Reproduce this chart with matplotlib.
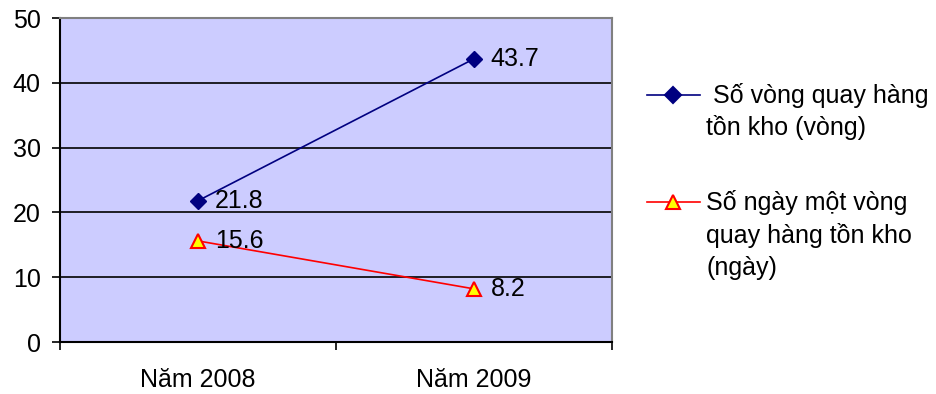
import matplotlib.pyplot as plt
from matplotlib.lines import Line2D

plt.rcParams['font.family'] = ['Liberation Sans', 'DejaVu Sans']

years = ['Năm 2008', 'Năm 2009']
vong_quay = [21.8, 43.7]
so_ngay = [15.6, 8.2]
label_vong = [' Số vòng quay hàng', 'tồn kho (vòng)']
label_ngay = ['Số ngày một vòng', 'quay hàng tồn kho', '(ngày)']

fs = 18

fig = plt.figure(figsize=(9.37, 3.94), dpi=100)
ax = fig.add_axes([60 / 937, 1 - 342 / 394, 552 / 937, 324 / 394])
ax.set_facecolor('#ccccff')

x = list(range(len(years)))
ax.plot(x, vong_quay, color='#000080', lw=1.2, marker='D', ms=8,
        mfc='#000080', mec='#000080')
ax.plot(x, so_ngay, color='red', lw=1.2, marker='^', ms=9.5,
        mfc='yellow', mec='red', mew=1.5)

for xi, v in zip(x, vong_quay):
    ax.annotate(f'{v}', (xi, v), xytext=(12, 0), textcoords='offset points',
                va='center', ha='left', fontsize=fs)
for xi, v in zip(x, so_ngay):
    ax.annotate(f'{v}', (xi, v), xytext=(12, 0), textcoords='offset points',
                va='center', ha='left', fontsize=fs)

ax.set_xlim(-0.5, 1.5)
ax.set_ylim(0, 50)
ax.set_yticks(range(0, 51, 10))
ax.yaxis.grid(True, color='black', lw=1.2)
ax.set_axisbelow(True)
ax.set_xticks([-0.5, 0.5, 1.5])
ax.set_xticklabels([])
ax.set_xticks(x, minor=True)
ax.set_xticklabels(years, minor=True, fontsize=fs)
ax.tick_params(axis='x', which='minor', length=0, pad=19)
ax.tick_params(axis='x', which='major', length=6, direction='out', width=1.2)
ax.tick_params(axis='y', length=6, width=1.2, labelsize=fs, pad=8)
for s in ['left', 'bottom']:
    ax.spines[s].set_color('black')
    ax.spines[s].set_linewidth(1.5)
for s in ['top', 'right']:
    ax.spines[s].set_color('#808080')
    ax.spines[s].set_linewidth(1.5)

# legend drawn by hand so the marker sits beside the first text line
def legend_entry(y_px, color, marker, mfc, ms, lines):
    yf = 1 - y_px / 394
    fig.add_artist(Line2D([647 / 937, 700 / 937], [yf, yf], color=color, lw=1.2,
                          transform=fig.transFigure))
    fig.add_artist(Line2D([673.5 / 937], [yf], color=color, marker=marker, ms=ms,
                          mfc=mfc, mec=color, mew=1.5, transform=fig.transFigure))
    for i, line in enumerate(lines):
        yb = 1 - (y_px + 8 + 32.5 * i) / 394
        fig.text(706 / 937, yb, line, fontsize=fs, va='baseline', ha='left',
                 transform=fig.transFigure)

legend_entry(95, '#000080', 'D', '#000080', 8, label_vong)
legend_entry(202, 'red', '^', 'yellow', 9.5, label_ngay)

fig.savefig('out.png', dpi=100)
